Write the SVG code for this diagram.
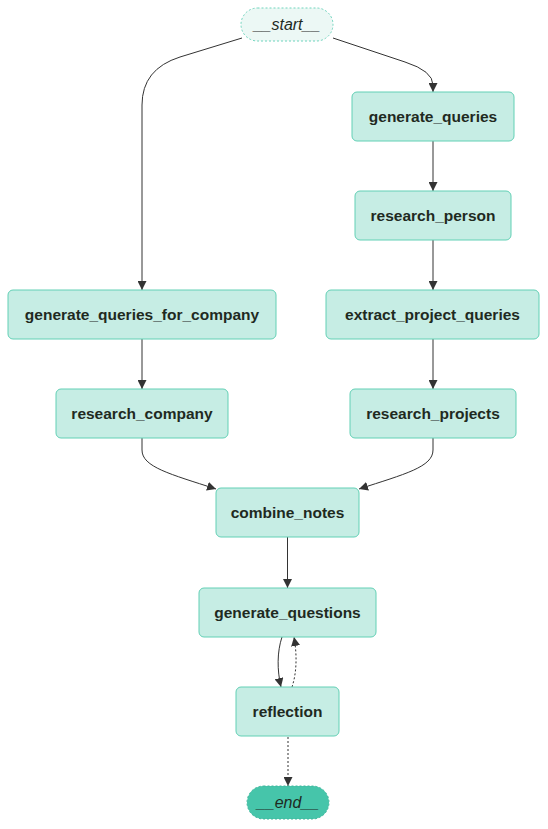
<svg xmlns="http://www.w3.org/2000/svg" width="548" height="829" viewBox="0 0 548 829">
<style>
.node rect{fill:#c6ede4;stroke:#62d0b5;stroke-width:1}
.lbl{font-family:"Liberation Sans",Arial,sans-serif;font-size:15.5px;font-weight:bold;fill:#1f2a1f;text-anchor:middle;dominant-baseline:central}
.it{font-style:italic;font-weight:normal;font-size:16px}
.edge{fill:none;stroke:#333;stroke-width:1}
.dot{stroke-dasharray:2 2}
</style>
<defs>
<marker id="arr" viewBox="0 0 10 10" refX="10" refY="5" markerUnits="userSpaceOnUse" markerWidth="9" markerHeight="9" orient="auto">
<path d="M0,0 L10,5 L0,10 z" fill="#333"/>
</marker>
</defs>
<rect width="548" height="829" fill="#fff"/>
<g id="edges">
<path class="edge" d="M242,38 L180,57 Q142,69 142,105 L142,290" marker-end="url(#arr)"/>
<path class="edge" d="M333,38 L405,62 Q433,71 433,85 L433,92" marker-end="url(#arr)"/>
<path class="edge" d="M433,141 L433,191" marker-end="url(#arr)"/>
<path class="edge" d="M433,240 L433,290" marker-end="url(#arr)"/>
<path class="edge" d="M142,339 L142,389" marker-end="url(#arr)"/>
<path class="edge" d="M433,339 L433,389" marker-end="url(#arr)"/>
<path class="edge" d="M142,438 L142,450 C142,467 170,474 216,489" marker-end="url(#arr)"/>
<path class="edge" d="M433,438 L433,450 C433,467 405,474 359,489" marker-end="url(#arr)"/>
<path class="edge" d="M287.5,537 L287.5,588" marker-end="url(#arr)"/>
<path class="edge" d="M282,637 C277,652 277,670 281,687" marker-end="url(#arr)"/>
<path class="edge dot" d="M292,687 C297,672 297,654 294,637" marker-end="url(#arr)"/>
<path class="edge dot" d="M288,737 L288,786" marker-end="url(#arr)"/>
</g>
<g id="start">
<rect x="241" y="8" width="92" height="33" rx="16.5" fill="#ecf8f5" stroke="#6fd4bd" stroke-dasharray="2 2"/>
<text class="lbl it" x="287" y="24.5">__start__</text>
</g>
<g id="generate_queries" class="node">
<rect x="352" y="92" width="162" height="49" rx="5"/>
<text class="lbl" x="433" y="116.5">generate_queries</text>
</g>
<g id="research_person" class="node">
<rect x="355" y="191" width="156" height="49" rx="5"/>
<text class="lbl" x="433" y="215.5">research_person</text>
</g>
<g id="generate_queries_for_company" class="node">
<rect x="8" y="290" width="268" height="49" rx="5"/>
<text class="lbl" x="142" y="314.5">generate_queries_for_company</text>
</g>
<g id="extract_project_queries" class="node">
<rect x="326" y="290" width="213" height="49" rx="5"/>
<text class="lbl" x="432.5" y="314.5">extract_project_queries</text>
</g>
<g id="research_company" class="node">
<rect x="56" y="389" width="172" height="49" rx="5"/>
<text class="lbl" x="142" y="413.5">research_company</text>
</g>
<g id="research_projects" class="node">
<rect x="350" y="389" width="166" height="49" rx="5"/>
<text class="lbl" x="433" y="413.5">research_projects</text>
</g>
<g id="combine_notes" class="node">
<rect x="216" y="488" width="143" height="49" rx="5"/>
<text class="lbl" x="287.5" y="512.5">combine_notes</text>
</g>
<g id="generate_questions" class="node">
<rect x="199" y="588" width="177" height="49" rx="5"/>
<text class="lbl" x="287.5" y="612.5">generate_questions</text>
</g>
<g id="reflection" class="node">
<rect x="236" y="687" width="103" height="49" rx="5"/>
<text class="lbl" x="287.5" y="711.5">reflection</text>
</g>
<g id="end">
<rect x="247" y="786" width="82" height="33" rx="16.5" fill="#46c5aa" stroke="#3fb59b" stroke-dasharray="2 2"/>
<text class="lbl it" x="288" y="802.5">__end__</text>
</g>
</svg>
